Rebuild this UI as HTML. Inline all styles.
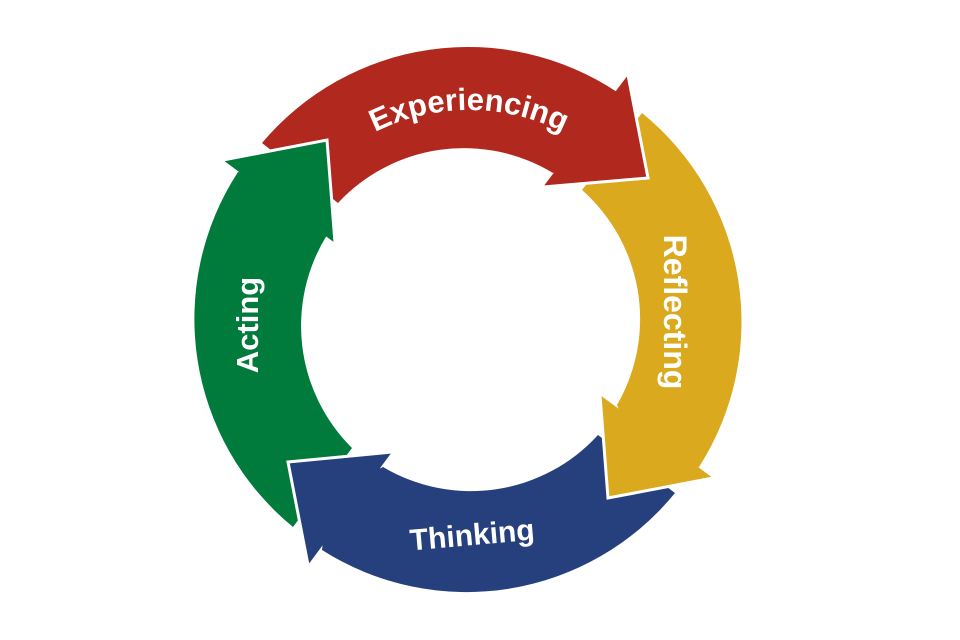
<!DOCTYPE html>
<html><head><meta charset="utf-8"><style>html,body{margin:0;padding:0;background:#fff;}svg{display:block}</style></head>
<body>
<svg width="960" height="640" viewBox="0 0 960 640" xmlns="http://www.w3.org/2000/svg">
<rect width="960" height="640" fill="#fff"/>
<!-- bodies -->
<path d="M262 143 A269 269 0 0 1 617 92 L606 147 L553 173 A172 172 0 0 0 338 203 Z" fill="#b0281e"/>
<path d="M642 113 A269 269 0 0 1 699 467 L640 457 L617 405 A172 172 0 0 0 582 190 Z" fill="#dba91e"/>
<path d="M675 493 A269 269 0 0 1 322 550 L329 493 L383 467 A172 172 0 0 0 598 435 Z" fill="#263f7d"/>
<path d="M293 527 A269 269 0 0 1 238 172 L295 181 L327 235 A172 172 0 0 0 352 448 Z" fill="#017b3c"/>
<!-- heads -->
<g stroke="#fff" stroke-width="3" stroke-linejoin="miter">
<path d="M628 75 L648 178 L543 187" fill="#b0281e"/>
<path d="M713 478 L608 498 L600 395" fill="#dba91e"/>
<path d="M308 565 L288 462 L392 452" fill="#263f7d"/>
<path d="M223 160 L327 140 L335 243" fill="#017b3c"/>
</g>
<defs><path id="tp" d="M348.5 148 A210 210 0 0 1 589.5 148"/></defs>
<g font-family="Liberation Sans, sans-serif" font-weight="bold" fill="#fff">
<text text-anchor="middle" font-size="31"><textPath href="#tp" startOffset="50%">Experiencing</textPath></text>
<text x="0" y="0" text-anchor="middle" font-size="32" transform="translate(664,312) rotate(90)">Reflecting</text>
<text x="0" y="0" text-anchor="middle" font-size="31" transform="translate(258,325) rotate(-90)">Acting</text>
<text x="0" y="0" text-anchor="middle" font-size="30" transform="translate(473,545) rotate(-5)">Thinking</text>
</g>
</svg>
</body></html>
